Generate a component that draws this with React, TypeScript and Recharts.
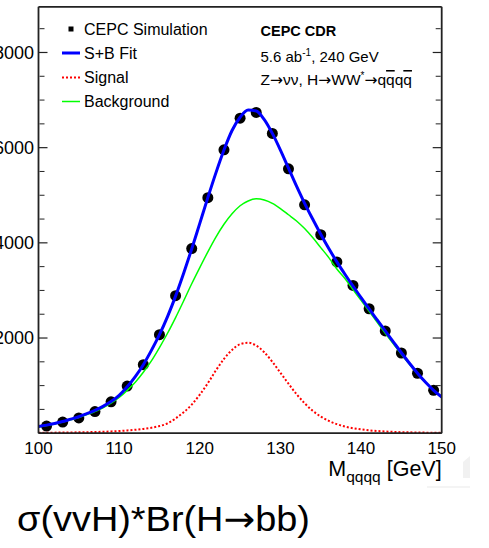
import React from 'react'
import { ComposedChart, Line, Scatter, XAxis, YAxis, Label } from 'recharts'

// M(qqqq) grid for the fitted curves, GeV
const massGrid = [
  100, 101, 102, 103, 104, 105, 106, 107, 108, 109,
  110, 111, 112, 113, 114, 115, 116, 117, 118, 119,
  120, 121, 122, 123, 124, 125, 126, 127, 128, 129,
  130, 131, 132, 133, 134, 135, 136, 137, 138, 139,
  140, 141, 142, 143, 144, 145, 146, 147, 148, 149, 150,
]
const fitCurve = [
  140, 170, 205, 245, 295, 345, 410, 480, 565, 665,
  795, 975, 1190, 1440, 1740, 2070, 2450, 2880, 3360, 3870,
  4410, 4950, 5470, 5950, 6360, 6640, 6790, 6770, 6590, 6300,
  5950, 5570, 5190, 4830, 4500, 4180, 3880, 3600, 3340, 3090,
  2850, 2610, 2380, 2150, 1920, 1690, 1470, 1260, 1070, 900, 760,
]
const signalCurve = [
  10, 11, 12, 14, 16, 18, 21, 25, 30, 37,
  46, 58, 72, 90, 115, 150, 205, 310, 440, 600,
  810, 1050, 1320, 1560, 1750, 1870, 1900, 1840, 1700, 1500,
  1270, 1040, 820, 630, 470, 350, 260, 190, 140, 105,
  80, 60, 46, 36, 28, 22, 18, 15, 12, 10, 8,
]
const backgroundCurve = [
  130, 160, 195, 235, 280, 330, 390, 455, 535, 630,
  750, 900, 1070, 1280, 1520, 1800, 2100, 2430, 2780, 3140,
  3480, 3810, 4120, 4390, 4610, 4780, 4880, 4925, 4900, 4830,
  4720, 4590, 4460, 4300, 4110, 3900, 3690, 3450, 3250, 3020,
  2790, 2560, 2330, 2100, 1880, 1660, 1450, 1250, 1060, 900, 760,
]

// CEPC simulation points
const simMass = [
  101, 103, 105, 107, 109, 111, 113, 115, 117, 119, 121, 123, 125,
  127, 129, 131, 133, 135, 137, 139, 141, 143, 145, 147, 149,
]
const simEvents = [
  150, 235, 320, 455, 660, 990, 1440, 2070, 2890, 3880, 4950, 5955, 6620,
  6740, 6300, 5555, 4800, 4170, 3600, 3105, 2615, 2150, 1685, 1260, 900,
]

const xMajor = [100, 110, 120, 130, 140, 150]
const xMinor = [102, 104, 106, 108, 112, 114, 116, 118, 122, 124, 126, 128, 132, 134, 136, 138, 142, 144, 146, 148]
const yLabels = [2000, 4000, 6000, 8000]
const yMajor = [0, 2000, 4000, 6000, 8000]
const yMinor = [500, 1000, 1500, 2500, 3000, 3500, 4500, 5000, 5500, 6500, 7000, 7500, 8500]

const X_DOMAIN = [100, 150]
const Y_DOMAIN = [0, 8960]
const FONT = '"Liberation Sans", Arial, Helvetica, sans-serif'
const ARROW = '"DejaVu Sans", sans-serif'
const FRAME = '#222'

const curves = massGrid.map((m, i) => ({
  mass: m,
  fit: fitCurve[i],
  signal: signalCurve[i],
  background: backgroundCurve[i],
}))
const simData = simMass.map((m, i) => ({ mass: m, events: simEvents[i] }))

const NoTick = () => <g />

const Dot = (props: any) => <circle cx={props.cx} cy={props.cy} r={5.5} fill="#000" />

const AxisTitle = (props: any) => {
  const vb = props.viewBox
  return (
    <text x={vb.x + vb.width} y={vb.y + 42.5} textAnchor="end" fontFamily={FONT} fontSize={21.5} fill="#000">
      M
      <tspan dy={6} fontSize={15.5}>qqqq</tspan>
      <tspan dy={-6}> [GeV]</tspan>
    </text>
  )
}

function Overlay() {
  const t = { fontFamily: FONT, fill: '#000' }
  return (
    <svg width={489} height={548} style={{ position: 'absolute', left: 0, top: 0, pointerEvents: 'none' }}>
      <rect x={68.5} y={26.5} width={5} height={5} fill="#000" />
      <text x={84} y={34.5} fontSize={16} {...t}>CEPC Simulation</text>
      <line x1={62} x2={80} y1={53} y2={53} stroke="#0000ff" strokeWidth={3} />
      <text x={84} y={58.5} fontSize={16} {...t}>S+B Fit</text>
      <line x1={62} x2={80} y1={77.5} y2={77.5} stroke="#ff0000" strokeWidth={2} strokeDasharray="2 2" />
      <text x={84} y={83} fontSize={16} {...t}>Signal</text>
      <line x1={62} x2={80} y1={101.5} y2={101.5} stroke="#00ff00" strokeWidth={1.5} />
      <text x={84} y={107} fontSize={16} {...t}>Background</text>

      <text x={260.5} y={36} fontSize={14.5} fontWeight="bold" {...t}>CEPC CDR</text>
      <text x={260.5} y={61.5} fontSize={15} {...t}>
        5.6 ab<tspan dy={-6} fontSize={10}>-1</tspan><tspan dy={6}>, 240 GeV</tspan>
      </text>
      <text x={260.5} y={85} fontSize={15.5} {...t}>
        Z<tspan fontFamily={ARROW}>→</tspan>νν, H<tspan fontFamily={ARROW}>→</tspan>WW
        <tspan dy={-6} fontSize={10}>*</tspan><tspan dy={6} fontFamily={ARROW}>→</tspan>q
        <tspan style={{ textDecoration: 'overline' }}>q</tspan>q
        <tspan style={{ textDecoration: 'overline' }}>q</tspan>
      </text>

      {/* faint slide artefact at the lower right */}
      <polygon points="463,462 470,456 470,478 463,478" fill="#f1f1f1" />
      <line x1={427} x2={470} y1={487} y2={487} stroke="#f1f1f1" strokeWidth={1.5} />

      <text x={17} y={531} fontSize={35} textLength={293} lengthAdjust="spacingAndGlyphs" {...t}>
        σ(vvH)*Br(H<tspan fontFamily={ARROW}>→</tspan>bb)
      </text>
    </svg>
  )
}

export default function App() {
  return (
    <div style={{ position: 'absolute', left: 0, top: 0, width: 489, height: 548, background: '#fff' }}>
      <ComposedChart
        width={489}
        height={548}
        margin={{ top: 6.8, right: 47.3, bottom: 84.8, left: 0 }}
      >
        {/* label axes, carry the data */}
        <XAxis
          xAxisId="x" dataKey="mass" type="number" domain={X_DOMAIN} allowDataOverflow
          ticks={xMajor} interval={0} height={30} tickLine={false} axisLine={false}
          tickSize={0} tickMargin={9}
          tick={{ fontSize: 17, fill: '#000', fontFamily: FONT }}
        >
          <Label content={AxisTitle} />
        </XAxis>
        <YAxis
          yAxisId="y" type="number" domain={Y_DOMAIN} allowDataOverflow
          ticks={yLabels} interval={0} width={38.5} tickLine={false} axisLine={false}
          tickSize={0} tickMargin={4.5}
          tick={{ fontSize: 18, fill: '#000', fontFamily: FONT }}
        />

        {/* ROOT style frame, ticks pointing inwards on all four sides */}
        <XAxis xAxisId="bMaj" orientation="bottom" mirror type="number" domain={X_DOMAIN} allowDataOverflow
          ticks={xMajor} interval={0} tickSize={10} tick={NoTick} axisLine={{ stroke: FRAME, strokeWidth: 1.8 }}
          tickLine={{ stroke: FRAME, strokeWidth: 1.2 }} height={1} />
        <XAxis xAxisId="bMin" orientation="bottom" mirror type="number" domain={X_DOMAIN} allowDataOverflow
          ticks={xMinor} interval={0} tickSize={5} tick={NoTick} axisLine={false}
          tickLine={{ stroke: FRAME, strokeWidth: 1 }} height={1} />
        <XAxis xAxisId="tMaj" orientation="top" mirror type="number" domain={X_DOMAIN} allowDataOverflow
          ticks={xMajor} interval={0} tickSize={10} tick={NoTick} axisLine={{ stroke: FRAME, strokeWidth: 1.8 }}
          tickLine={{ stroke: FRAME, strokeWidth: 1.2 }} height={1} />
        <XAxis xAxisId="tMin" orientation="top" mirror type="number" domain={X_DOMAIN} allowDataOverflow
          ticks={xMinor} interval={0} tickSize={5} tick={NoTick} axisLine={false}
          tickLine={{ stroke: FRAME, strokeWidth: 1 }} height={1} />
        <YAxis yAxisId="lMaj" orientation="left" mirror type="number" domain={Y_DOMAIN} allowDataOverflow
          ticks={yMajor} interval={0} tickSize={9} tick={NoTick} axisLine={{ stroke: FRAME, strokeWidth: 1.8 }}
          tickLine={{ stroke: FRAME, strokeWidth: 1.2 }} width={1} />
        <YAxis yAxisId="lMin" orientation="left" mirror type="number" domain={Y_DOMAIN} allowDataOverflow
          ticks={yMinor} interval={0} tickSize={5} tick={NoTick} axisLine={false}
          tickLine={{ stroke: FRAME, strokeWidth: 1 }} width={1} />
        <YAxis yAxisId="rMaj" orientation="right" mirror type="number" domain={Y_DOMAIN} allowDataOverflow
          ticks={yMajor} interval={0} tickSize={9} tick={NoTick} axisLine={{ stroke: FRAME, strokeWidth: 1.8 }}
          tickLine={{ stroke: FRAME, strokeWidth: 1.2 }} width={1} />
        <YAxis yAxisId="rMin" orientation="right" mirror type="number" domain={Y_DOMAIN} allowDataOverflow
          ticks={yMinor} interval={0} tickSize={5} tick={NoTick} axisLine={false}
          tickLine={{ stroke: FRAME, strokeWidth: 1 }} width={1} />

        <Scatter
          data={simData} xAxisId="x" yAxisId="y" dataKey="events" fill="#000"
          shape={Dot} isAnimationActive={false} zIndex={350}
        />
        <Line
          data={curves} xAxisId="x" yAxisId="y" dataKey="background" type="monotone"
          stroke="#00ff00" strokeWidth={1.5} dot={false} activeDot={false} isAnimationActive={false}
        />
        <Line
          data={curves} xAxisId="x" yAxisId="y" dataKey="signal" type="monotone"
          stroke="#ff0000" strokeWidth={2} strokeDasharray="2 2" dot={false} activeDot={false} isAnimationActive={false}
        />
        <Line
          data={curves} xAxisId="x" yAxisId="y" dataKey="fit" type="monotone"
          stroke="#0000ff" strokeWidth={3} dot={false} activeDot={false} isAnimationActive={false}
        />
      </ComposedChart>
      <Overlay />
    </div>
  )
}
